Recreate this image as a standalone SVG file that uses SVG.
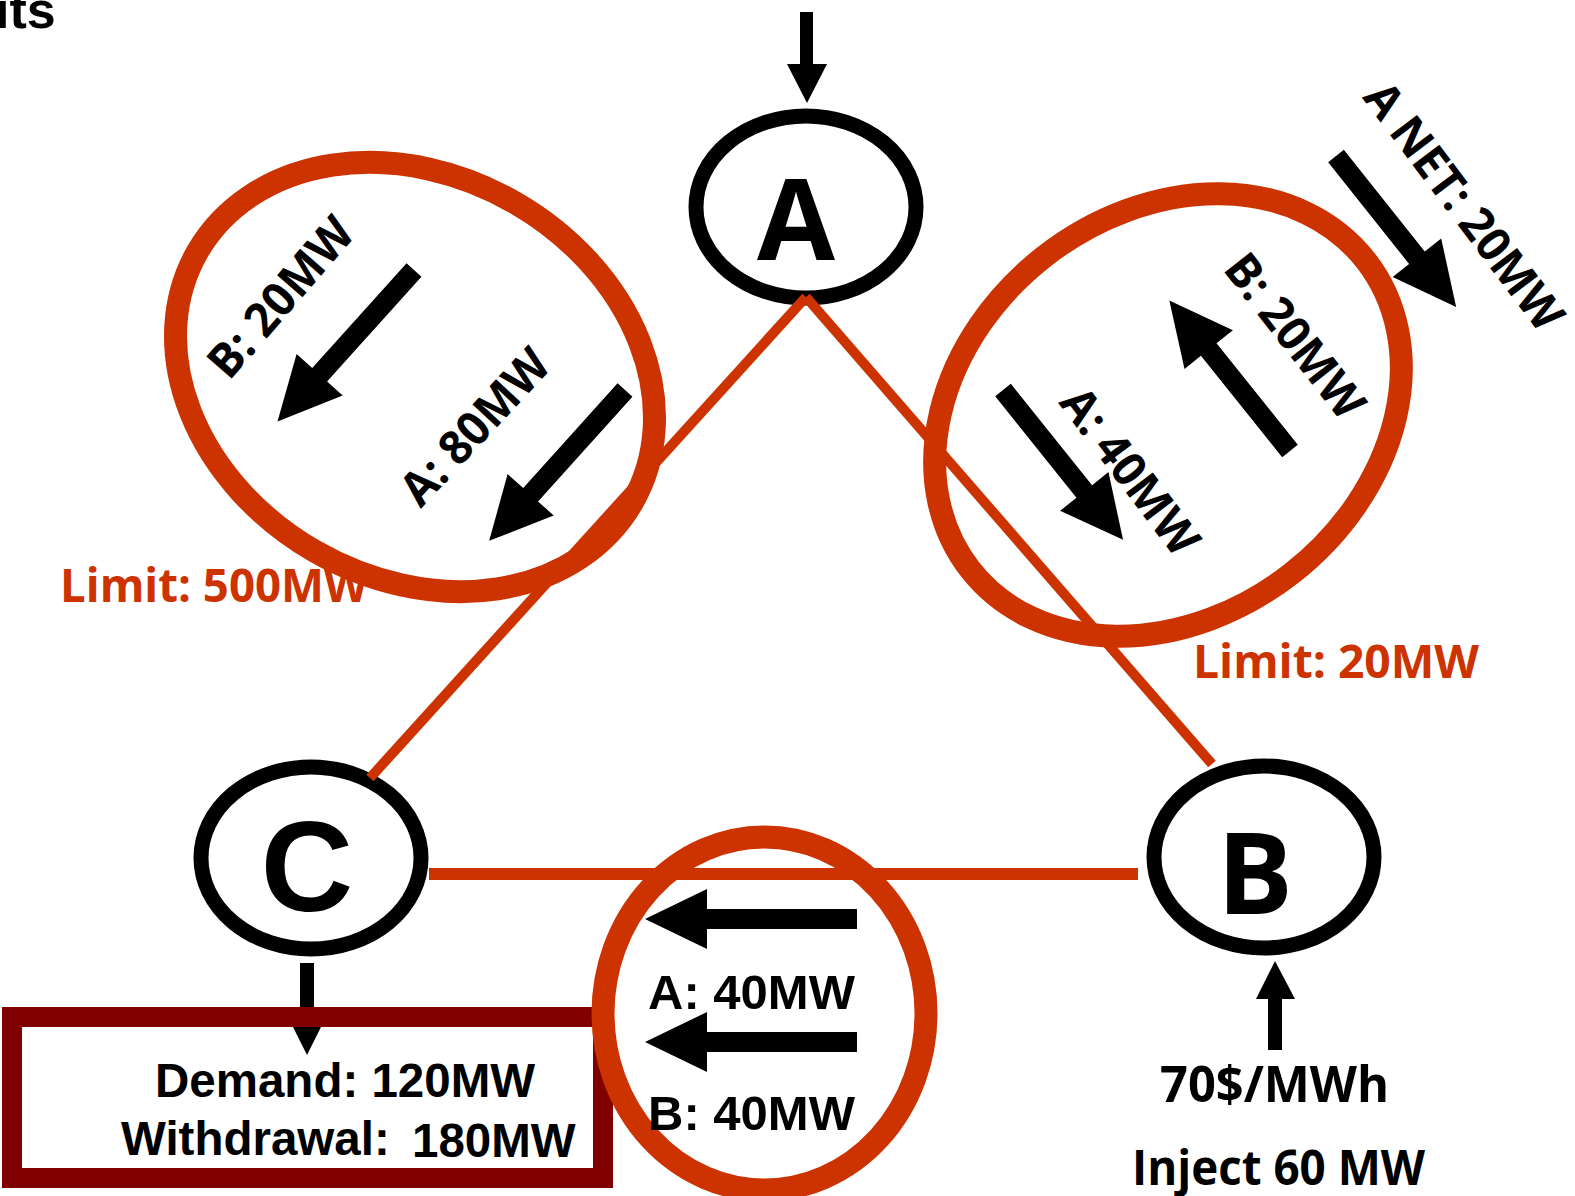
<svg xmlns="http://www.w3.org/2000/svg" width="1575" height="1196" viewBox="0 0 1575 1196">
<style>
.node{fill:#fff;stroke:#000;stroke-width:15}
.ln{stroke:#CC3300;fill:none}
.ring{fill:none;stroke:#CC3300;stroke-width:23}
.arr{fill:#000}
.cal{font-family:"Open Sans","Noto Sans","DejaVu Sans",sans-serif;font-weight:700;fill:#000}
.ari{font-family:"Liberation Sans",Arial,sans-serif;font-weight:700;fill:#000}
.red{fill:#CC3300}
</style>
<rect x="0" y="0" width="1575" height="1196" fill="#fff"/>
<text class="ari" x="-5" y="28" font-size="52">its</text>

<g id="node-A">
<ellipse class="node" cx="806" cy="207" rx="110" ry="91"/>
<text class="cal" x="796" y="260" font-size="113" text-anchor="middle">A</text>
</g>
<g id="node-B">
<ellipse class="node" cx="1264" cy="857" rx="110" ry="91"/>
<text class="cal" x="1255" y="914" font-size="113" text-anchor="middle">B</text>
</g>
<g id="node-C">
<ellipse class="node" cx="311" cy="858" rx="110" ry="91"/>
<text class="ari" x="307" y="911" font-size="128" text-anchor="middle">C</text>
</g>

<g id="connectors">
<line class="ln" x1="806" y1="297" x2="370" y2="778" stroke-width="10"/>
<line class="ln" x1="806" y1="297" x2="1212" y2="764" stroke-width="10"/>
<line class="ln" x1="429" y1="874" x2="1138" y2="874" stroke-width="12"/>
</g>

<g id="limit-AC">
<ellipse class="ring" cx="415" cy="377" rx="251" ry="201" transform="rotate(30 415 377)"/>
<path class="arr" d="M0,-10H141V-31L204,0L141,31V10H0Z" transform="translate(414,270) rotate(132)"/>
<path class="arr" d="M0,-10H141V-31L203,0L141,31V10H0Z" transform="translate(625,390) rotate(132)"/>
<text class="cal" font-size="47" text-anchor="middle" textLength="195" lengthAdjust="spacingAndGlyphs" transform="translate(293,308) rotate(-49)">B: 20MW</text>
<text class="cal" font-size="47" text-anchor="middle" textLength="194" lengthAdjust="spacingAndGlyphs" transform="translate(487,438) rotate(-47)">A: 80MW</text>
<text class="cal red" x="60" y="602" font-size="47" textLength="308" lengthAdjust="spacingAndGlyphs">Limit: 500MW</text>
</g>

<g id="limit-AB">
<ellipse class="ring" cx="1168" cy="415" rx="251" ry="201" transform="rotate(-38 1168 415)"/>
<path class="arr" d="M0,-10H130V-31L193,0L130,31V10H0Z" transform="translate(1336,156) rotate(51.5)"/>
<path class="arr" d="M0,-10H130V-31L192,0L130,31V10H0Z" transform="translate(1003,390) rotate(51.3)"/>
<path class="arr" d="M0,-10H130V-31L193,0L130,31V10H0Z" transform="translate(1290,451) rotate(231.3)"/>
<text class="cal" font-size="47" text-anchor="middle" textLength="297" lengthAdjust="spacingAndGlyphs" transform="translate(1451,216) rotate(53)">A NET: 20MW</text>
<text class="cal" font-size="47" text-anchor="middle" textLength="195" lengthAdjust="spacingAndGlyphs" transform="translate(1282,346) rotate(52)">B: 20MW</text>
<text class="cal" font-size="47" text-anchor="middle" textLength="196" lengthAdjust="spacingAndGlyphs" transform="translate(1117,481) rotate(53)">A: 40MW</text>
<text class="cal red" x="1193" y="678" font-size="47" textLength="286" lengthAdjust="spacingAndGlyphs">Limit: 20MW</text>
</g>

<g id="injection-A">
<path class="arr" d="M800,12H813V64H827L807,103L787,64H800Z"/>
</g>

<g id="demand-C">
<path class="arr" d="M300,963H314V1015H327L307,1055L287,1015H300Z"/>
<rect x="12" y="1017" width="591" height="161" fill="none" stroke="#800000" stroke-width="20"/>
<text class="ari" x="155" y="1097" font-size="47.5">Demand: 120MW</text>
<text class="ari" font-size="47.5"><tspan x="121" y="1155">Withdrawal:</tspan><tspan x="412" y="1157">180MW</tspan></text>
</g>

<g id="limit-CB">
<ellipse class="ring" cx="764.5" cy="1013.5" rx="161.5" ry="176.5"/>
<path class="arr" d="M0,-10H150V-30L212,0L150,30V10H0Z" transform="translate(857,919) rotate(180)"/>
<path class="arr" d="M0,-10H150V-30L212,0L150,30V10H0Z" transform="translate(857,1042) rotate(180)"/>
<text class="ari" x="648" y="1009" font-size="49">A: 40MW</text>
<text class="ari" x="648" y="1130" font-size="49">B: 40MW</text>
</g>

<g id="injection-B">
<path class="arr" d="M1268,1050V999H1256L1275,961L1295,999H1282V1050Z"/>
<text class="cal" x="1160" y="1102" font-size="50" textLength="229" lengthAdjust="spacingAndGlyphs">70$/MWh</text>
<text class="cal" x="1132" y="1185" font-size="49" textLength="293" lengthAdjust="spacingAndGlyphs">Inject 60 MW</text>
</g>
</svg>
